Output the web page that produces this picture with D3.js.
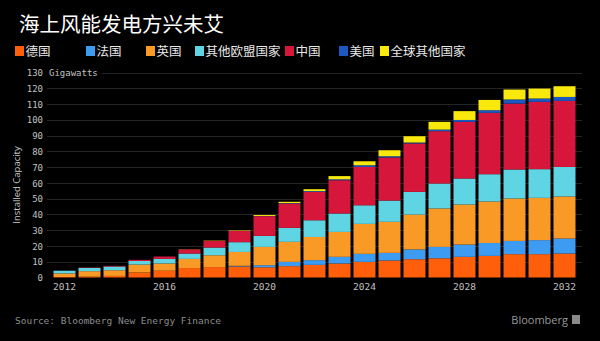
<!DOCTYPE html>
<html><head><meta charset="utf-8">
<script src="https://cdn.jsdelivr.net/npm/d3@7"></script>
<style>html,body{margin:0;padding:0;background:#000;}svg{display:block;}</style>
</head><body>
<script>
const years = [2012,2013,2014,2015,2016,2017,2018,2019,2020,2021,2022,2023,2024,2025,2026,2027,2028,2029,2030,2031,2032];
const seriesNames = ["德国","法国","英国","其他欧盟国家","中国","美国","全球其他国家"];
const germany = [0.3,0.5,1.0,3.2,4.3,6.0,6.6,7.0,6.5,7.2,8.0,8.9,9.9,10.8,11.6,12.2,13.1,13.7,14.8,14.8,15.2];
const france  = [0,0,0,0,0,0,0,0.4,1.3,2.7,3.0,4.2,5.1,4.8,6.2,7.2,7.8,8.2,8.4,8.9,9.5];
const uk      = [2.3,3.5,3.6,5.0,4.6,5.8,7.5,8.8,11.6,12.7,14.7,15.8,19.0,19.7,22.1,24.4,25.4,26.3,26.9,26.8,26.7];
const otherEU = [1.7,2.1,2.4,2.3,2.9,3.4,4.9,6.2,7.0,8.9,10.6,11.7,11.8,13.5,14.4,15.8,16.5,17.3,18.4,18.2,18.7];
const china   = [0,0.2,0.4,0.7,1.5,2.6,4.2,7.1,12.5,15.4,18.0,21.1,24.3,27.3,30.7,33.2,35.9,38.9,41.8,42.7,41.9];
const us      = [0,0,0,0,0.03,0.03,0.03,0.03,0.1,0.3,0.5,0.6,1.1,0.8,0.6,1.0,1.2,1.7,2.6,2.1,2.5];
const rest    = [0,0,0,0,0,0.1,0.2,0.3,0.6,0.8,1.2,2.0,2.5,3.8,4.0,4.9,5.6,6.5,6.3,6.3,6.8];
const yTicks = [0,10,20,30,40,50,60,70,80,90,100,110,120,130];
const xTickYears = [2012,2016,2020,2024,2028,2032];
const colors = ["#ff5f0a","#3d9cf2","#f99a26","#5fd4e2","#d6163b","#1b58c2","#f8e80c"];
const title = "海上风能发电方兴未艾";
const source = "Source: Bloomberg New Energy Finance";

const W = 600, H = 341;
const svg = d3.select("body").append("svg").attr("width", W).attr("height", H);
svg.append("rect").attr("width", W).attr("height", H).attr("fill", "#000");

const allSeries = [germany, france, uk, otherEU, china, us, rest];
const table = years.map((yr, i) => {
  const row = {year: yr};
  seriesNames.forEach((n, k) => row[n] = allSeries[k][i]);
  return row;
});
const stacked = d3.stack().keys(seriesNames)(table);

const x = d3.scaleBand().domain(years).range([52, 577]).paddingInner(0.12).paddingOuter(0.06);
const y = d3.scaleLinear().domain([0, 130]).range([277.5, 72.5]);
const color = d3.scaleOrdinal().domain(seriesNames).range(colors);

// title
svg.append("text").attr("x", 19).attr("y", 32).attr("fill", "#ffffff")
  .attr("font-family", "'Noto Sans CJK SC', sans-serif").attr("font-size", 20.5)
  .text(title);

// legend
const legendX = [15, 86, 146, 195, 285, 339, 380];
const lg = svg.append("g");
seriesNames.forEach((n, k) => {
  const g = lg.append("g").attr("transform", `translate(${legendX[k]},51)`);
  g.append("rect").attr("x", 0).attr("y", -5).attr("width", 9).attr("height", 10).attr("fill", colors[k]);
  g.append("text").attr("x", 10.5).attr("y", 4.5).attr("fill", "#e8e8e8")
    .attr("font-family", "'Noto Sans CJK SC', sans-serif").attr("font-size", 12.5).text(n);
});

// gridlines
const grid = svg.append("g");
grid.selectAll("line").data(yTicks.filter(t => t > 0 && t < 130)).join("line")
  .attr("x1", 47).attr("x2", 582)
  .attr("y1", d => Math.round(y(d)) + 0.5).attr("y2", d => Math.round(y(d)) + 0.5)
  .attr("stroke", "#242424").attr("stroke-width", 1);
grid.append("line").attr("x1", 102).attr("x2", 582)
  .attr("y1", Math.round(y(130)) + 0.5).attr("y2", Math.round(y(130)) + 0.5)
  .attr("stroke", "#242424");

// y axis
const yAxis = d3.axisLeft(y).tickValues(yTicks).tickSize(0).tickPadding(0)
  .tickFormat(d => d === 130 ? "130" : d);
const yg = svg.append("g").attr("transform", "translate(43,0)").call(yAxis);
yg.select(".domain").remove();
yg.selectAll("text").attr("fill", "#c0c0c0").attr("font-family", "'DejaVu Sans Mono', monospace")
  .attr("font-size", 9).attr("dy", "0.35em");
svg.append("text").attr("x", 49).attr("y", y(130)).attr("dy", "0.35em").attr("fill", "#c0c0c0")
  .attr("font-family", "'DejaVu Sans Mono', monospace").attr("font-size", 9).text("Gigawatts");

svg.append("text").attr("transform", `translate(20,${(y(0)+y(130))/2 + 10}) rotate(-90)`)
  .attr("text-anchor", "middle").attr("fill", "#c8c8c8")
  .attr("font-family", "'Open Sans', sans-serif").attr("font-size", 9.5).text("Installed Capacity");

// bars
svg.append("g").selectAll("g").data(stacked).join("g")
  .attr("fill", d => color(d.key))
  .selectAll("rect").data(d => d).join("rect")
  .attr("x", d => x(d.data.year))
  .attr("width", x.bandwidth())
  .attr("y", d => y(d[1]))
  .attr("height", d => Math.max(0, y(d[0]) - y(d[1])));

// x axis
const xAxis = d3.axisBottom(x).tickValues(xTickYears).tickSize(0).tickPadding(0);
const xg = svg.append("g").attr("transform", "translate(0,283)").call(xAxis);
xg.select(".domain").remove();
xg.selectAll("text").attr("fill", "#c0c0c0").attr("font-family", "'DejaVu Sans Mono', monospace")
  .attr("font-size", 9.5).attr("dy", "0.71em");

// source
svg.append("text").attr("x", 15).attr("y", 324).attr("fill", "#8c8c8c")
  .attr("font-family", "'DejaVu Sans Mono', monospace").attr("font-size", 9.5).text(source);
svg.append("text").attr("x", 568).attr("y", 324).attr("text-anchor", "end").attr("fill", "#9a9a9a")
  .attr("font-family", "'Open Sans', sans-serif").attr("font-size", 11).text("Bloomberg");
svg.append("rect").attr("x", 572).attr("y", 315).attr("width", 8).attr("height", 9).attr("fill", "#8a8a8a");
</script>
</body></html>
